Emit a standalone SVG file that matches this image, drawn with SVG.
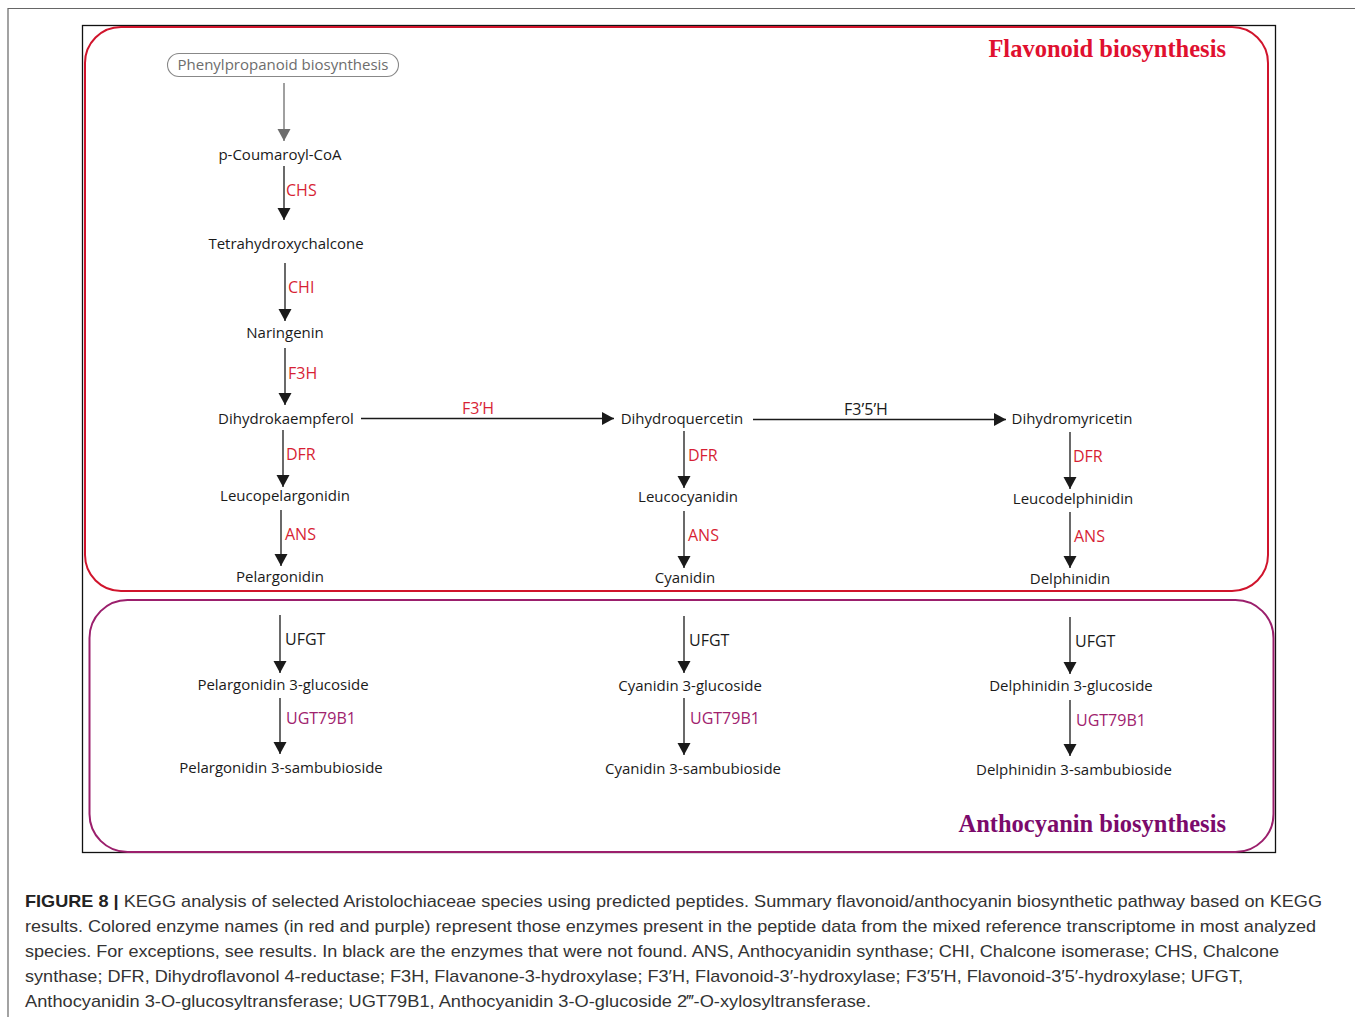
<svg xmlns="http://www.w3.org/2000/svg" width="1355" height="1017" viewBox="0 0 1355 1017">
<style>
.n{font-family:"Open Sans","Noto Sans",sans-serif;font-size:15px;fill:#1a1a1a;text-anchor:middle}
.e{font-family:"Open Sans","Noto Sans",sans-serif;font-size:16px;fill:#d71f35}
.k{font-family:"Open Sans","Noto Sans",sans-serif;font-size:16px;fill:#1a1a1a}
.p{font-family:"Open Sans","Noto Sans",sans-serif;font-size:16px;fill:#a0226e}
.c{font-family:"Liberation Sans",Arial,sans-serif;font-size:17px;fill:#333}
.a{stroke:#1a1a1a;stroke-width:1.3;fill:none;marker-end:url(#ah)}
</style>
<defs>
<marker id="ah" markerUnits="userSpaceOnUse" markerWidth="14" markerHeight="14" refX="12" refY="6.5" orient="auto"><path d="M0,0 L12,6.5 L0,13 Z" fill="#1a1a1a"/></marker>
<marker id="ahg" markerUnits="userSpaceOnUse" markerWidth="14" markerHeight="14" refX="12" refY="6.5" orient="auto"><path d="M0,0 L12,6.5 L0,13 Z" fill="#6d6d6d"/></marker>
</defs>
<rect width="1355" height="1017" fill="#fff"/>
<path d="M8,1017 V8.5 H1355" fill="none" stroke="#666" stroke-width="1.2"/>
<rect x="82.5" y="25.5" width="1193" height="827" fill="none" stroke="#111" stroke-width="1.3"/>
<g id="flavonoid-box">
<rect x="85" y="27" width="1183" height="564" rx="36" fill="none" stroke="#d0142c" stroke-width="2"/>
<text x="1226" y="57" text-anchor="end" font-family="Liberation Serif,serif" font-weight="bold" font-size="24.5" fill="#e0102f">Flavonoid biosynthesis</text>
</g>
<g id="anthocyanin-box">
<rect x="89.5" y="600" width="1184" height="252" rx="38" fill="none" stroke="#9b1f6c" stroke-width="2"/>
<text x="1226" y="832" text-anchor="end" font-family="Liberation Serif,serif" font-weight="bold" font-size="24.5" fill="#7b0a6b">Anthocyanin biosynthesis</text>
</g>
<g id="connectors">
<line x1="284" y1="83" x2="284" y2="141" stroke="#6d6d6d" stroke-width="1.3" marker-end="url(#ahg)"/>
<line class="a" x1="284" y1="166" x2="284" y2="220"/>
<line class="a" x1="285" y1="263" x2="285" y2="321"/>
<line class="a" x1="285" y1="348" x2="285" y2="405"/>
<line class="a" x1="361" y1="418.5" x2="614" y2="418.5"/>
<line class="a" x1="753" y1="419.5" x2="1006" y2="419.5"/>
<line class="a" x1="283" y1="430" x2="283" y2="487"/>
<line class="a" x1="281" y1="510" x2="281" y2="566"/>
<line class="a" x1="684" y1="431" x2="684" y2="488"/>
<line class="a" x1="684" y1="511" x2="684" y2="568"/>
<line class="a" x1="1070" y1="432" x2="1070" y2="489"/>
<line class="a" x1="1070" y1="512" x2="1070" y2="568"/>
<line class="a" x1="280" y1="615" x2="280" y2="673"/>
<line class="a" x1="280" y1="698" x2="280" y2="754"/>
<line class="a" x1="684" y1="616" x2="684" y2="673"/>
<line class="a" x1="684" y1="698" x2="684" y2="755"/>
<line class="a" x1="1070" y1="617" x2="1070" y2="674"/>
<line class="a" x1="1070" y1="700" x2="1070" y2="756"/>
<text class="e" x="286" y="196">CHS</text>
<text class="e" x="288" y="293">CHI</text>
<text class="e" x="288" y="379">F3H</text>
<text class="e" x="478" y="414" text-anchor="middle">F3’H</text>
<text class="k" x="866" y="415" text-anchor="middle">F3’5’H</text>
<text class="e" x="286" y="460">DFR</text>
<text class="e" x="285" y="540">ANS</text>
<text class="e" x="688" y="461">DFR</text>
<text class="e" x="688" y="541">ANS</text>
<text class="e" x="1073" y="462">DFR</text>
<text class="e" x="1074" y="542">ANS</text>
<text class="k" x="285" y="645">UFGT</text>
<text class="p" x="286" y="724">UGT79B1</text>
<text class="k" x="689" y="646">UFGT</text>
<text class="p" x="690" y="724">UGT79B1</text>
<text class="k" x="1075" y="647">UFGT</text>
<text class="p" x="1076" y="726">UGT79B1</text>
</g>
<g id="phenylpropanoid"><rect x="167.5" y="53.5" width="231" height="23" rx="11.5" fill="#fff" stroke="#888" stroke-width="1.1"/><text class="n" x="283" y="70" style="fill:#6d6d6d">Phenylpropanoid biosynthesis</text></g>
<g id="p-coumaroyl-coa"><text class="n" x="280" y="160">p-Coumaroyl-CoA</text></g>
<g id="tetrahydroxychalcone"><text class="n" x="286" y="249">Tetrahydroxychalcone</text></g>
<g id="naringenin"><text class="n" x="285" y="338">Naringenin</text></g>
<g id="dihydrokaempferol"><text class="n" x="286" y="424">Dihydrokaempferol</text></g>
<g id="dihydroquercetin"><text class="n" x="682" y="424">Dihydroquercetin</text></g>
<g id="dihydromyricetin"><text class="n" x="1072" y="424">Dihydromyricetin</text></g>
<g id="leucopelargonidin"><text class="n" x="285" y="501">Leucopelargonidin</text></g>
<g id="leucocyanidin"><text class="n" x="688" y="502">Leucocyanidin</text></g>
<g id="leucodelphinidin"><text class="n" x="1073" y="504">Leucodelphinidin</text></g>
<g id="pelargonidin"><text class="n" x="280" y="582">Pelargonidin</text></g>
<g id="cyanidin"><text class="n" x="685" y="583">Cyanidin</text></g>
<g id="delphinidin"><text class="n" x="1070" y="584">Delphinidin</text></g>
<g id="pelargonidin-3-glucoside"><text class="n" x="283" y="690">Pelargonidin 3-glucoside</text></g>
<g id="cyanidin-3-glucoside"><text class="n" x="690" y="691">Cyanidin 3-glucoside</text></g>
<g id="delphinidin-3-glucoside"><text class="n" x="1071" y="691">Delphinidin 3-glucoside</text></g>
<g id="pelargonidin-3-sambubioside"><text class="n" x="281" y="773">Pelargonidin 3-sambubioside</text></g>
<g id="cyanidin-3-sambubioside"><text class="n" x="693" y="774">Cyanidin 3-sambubioside</text></g>
<g id="delphinidin-3-sambubioside"><text class="n" x="1074" y="775">Delphinidin 3-sambubioside</text></g>
<g id="caption">
<text class="c" x="25" y="907" textLength="1297" lengthAdjust="spacingAndGlyphs"><tspan font-weight="bold" fill="#222">FIGURE 8 |</tspan> KEGG analysis of selected Aristolochiaceae species using predicted peptides. Summary flavonoid/anthocyanin biosynthetic pathway based on KEGG</text>
<text class="c" x="25" y="932" textLength="1291" lengthAdjust="spacingAndGlyphs">results. Colored enzyme names (in red and purple) represent those enzymes present in the peptide data from the mixed reference transcriptome in most analyzed</text>
<text class="c" x="25" y="957" textLength="1254" lengthAdjust="spacingAndGlyphs">species. For exceptions, see results. In black are the enzymes that were not found. ANS, Anthocyanidin synthase; CHI, Chalcone isomerase; CHS, Chalcone</text>
<text class="c" x="25" y="982" textLength="1218" lengthAdjust="spacingAndGlyphs">synthase; DFR, Dihydroflavonol 4-reductase; F3H, Flavanone-3-hydroxylase; F3′H, Flavonoid-3′-hydroxylase; F3′5′H, Flavonoid-3′5′-hydroxylase; UFGT,</text>
<text class="c" x="25" y="1007" textLength="846" lengthAdjust="spacingAndGlyphs">Anthocyanidin 3-O-glucosyltransferase; UGT79B1, Anthocyanidin 3-O-glucoside 2‴-O-xylosyltransferase.</text>
</g>
</svg>
